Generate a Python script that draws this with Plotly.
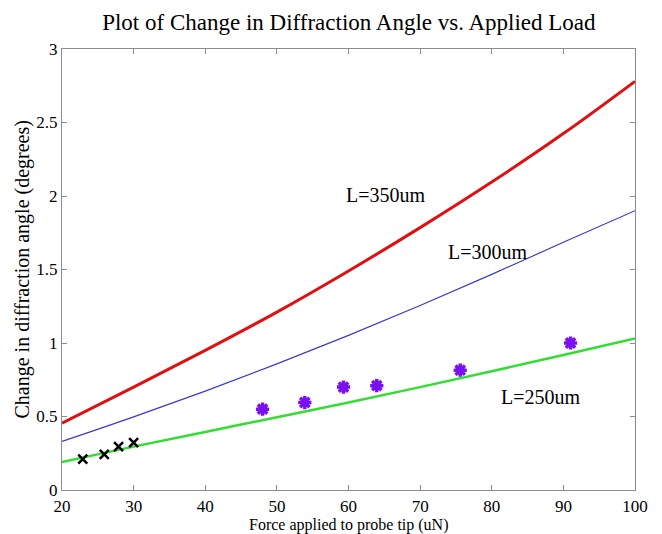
import plotly.graph_objects as go

# Applied load on the probe tip (uN) for the model curves
force = [20, 30, 40, 50, 60, 70, 80, 90, 100]

# Modelled change in diffraction angle (degrees) for each beam length
angle_350 = [0.455, 0.70, 0.95, 1.21, 1.49, 1.785, 2.095, 2.425, 2.78]
angle_300 = [0.33, 0.497, 0.673, 0.858, 1.052, 1.255, 1.467, 1.685, 1.90]
angle_250 = [0.19, 0.295, 0.395, 0.495, 0.595, 0.70, 0.808, 0.918, 1.03]

# Measured points (first set, crosses)
meas_x_force = [22.9, 25.9, 27.9, 30.0]
meas_x_angle = [0.21, 0.243, 0.295, 0.322]

# Measured points (second set, asterisks)
meas_s_force = [48.0, 53.9, 59.3, 63.95, 75.6, 91.0]
meas_s_angle = [0.55, 0.595, 0.70, 0.71, 0.815, 1.0]

# Curve labels: (text, force, angle)
curve_labels = [
    ("L=350um", 65.1, 2.01),
    ("L=300um", 79.4, 1.62),
    ("L=250um", 86.8, 0.63),
]

x_ticks = [20, 30, 40, 50, 60, 70, 80, 90, 100]
y_ticks = [0, 0.5, 1, 1.5, 2, 2.5, 3]
y_tick_text = ["0", "0.5", "1", "1.5", "2", "2.5", "3"]

x_title = "Force applied to probe tip (uN)"
y_title = "Change in diffraction angle (degrees)"

FONT = "Liberation Serif"

fig = go.Figure()
fig.add_trace(go.Scatter(x=force, y=angle_350, mode="lines",
                         line=dict(color="#e01010", width=3, shape="spline")))
fig.add_trace(go.Scatter(x=force, y=angle_300, mode="lines",
                         line=dict(color="#3a3ac8", width=1.2, shape="spline")))
fig.add_trace(go.Scatter(x=force, y=angle_250, mode="lines",
                         line=dict(color="#33dd33", width=2.5, shape="spline")))
fig.add_trace(go.Scatter(x=meas_x_force, y=meas_x_angle, mode="markers",
                         marker=dict(symbol="x-thin-open", size=9, color="black",
                                     line=dict(color="black", width=2.5))))
fig.add_trace(go.Scatter(x=meas_s_force, y=meas_s_angle, mode="markers",
                         marker=dict(symbol="asterisk-open", size=11, color="#7a10f0",
                                     line=dict(color="#7a10f0", width=3.5))))

for text, fx, fy in curve_labels:
    fig.add_annotation(x=fx, y=fy, text=text, showarrow=False,
                       font=dict(family=FONT, size=20, color="black"))

# Axis titles placed as paper-anchored annotations for tight spacing
fig.add_annotation(xref="paper", yref="paper", x=0.5, y=0, yanchor="middle",
                   yshift=-35, text=x_title, showarrow=False,
                   font=dict(family=FONT, size=16, color="black"))
fig.add_annotation(xref="paper", yref="paper", x=0, y=0.5, xanchor="center",
                   xshift=-40, textangle=-90, text=y_title, showarrow=False,
                   font=dict(family=FONT, size=20, color="black"))

axis_common = dict(
    showgrid=False, zeroline=False, showline=True, linecolor="#8c8c8c",
    linewidth=1.2, mirror="ticks", ticks="inside", ticklen=5,
    tickcolor="#8c8c8c", tickfont=dict(family=FONT, size=17, color="black"),
    automargin=False,
)

fig.update_layout(
    width=662, height=534,
    margin=dict(l=62, r=27, t=49, b=44),
    paper_bgcolor="white", plot_bgcolor="white",
    showlegend=False,
    font=dict(family=FONT, color="black"),
    title=dict(text="Plot of Change in Diffraction Angle vs. Applied Load",
               x=0.527, xanchor="center", y=0.958, yanchor="middle",
               font=dict(family=FONT, size=23, color="black")),
    xaxis=dict(range=[20, 100], tickvals=x_ticks, **axis_common),
    yaxis=dict(range=[0, 3], tickvals=y_ticks, ticktext=y_tick_text,
               **axis_common),
)

fig.write_html("out.html")
